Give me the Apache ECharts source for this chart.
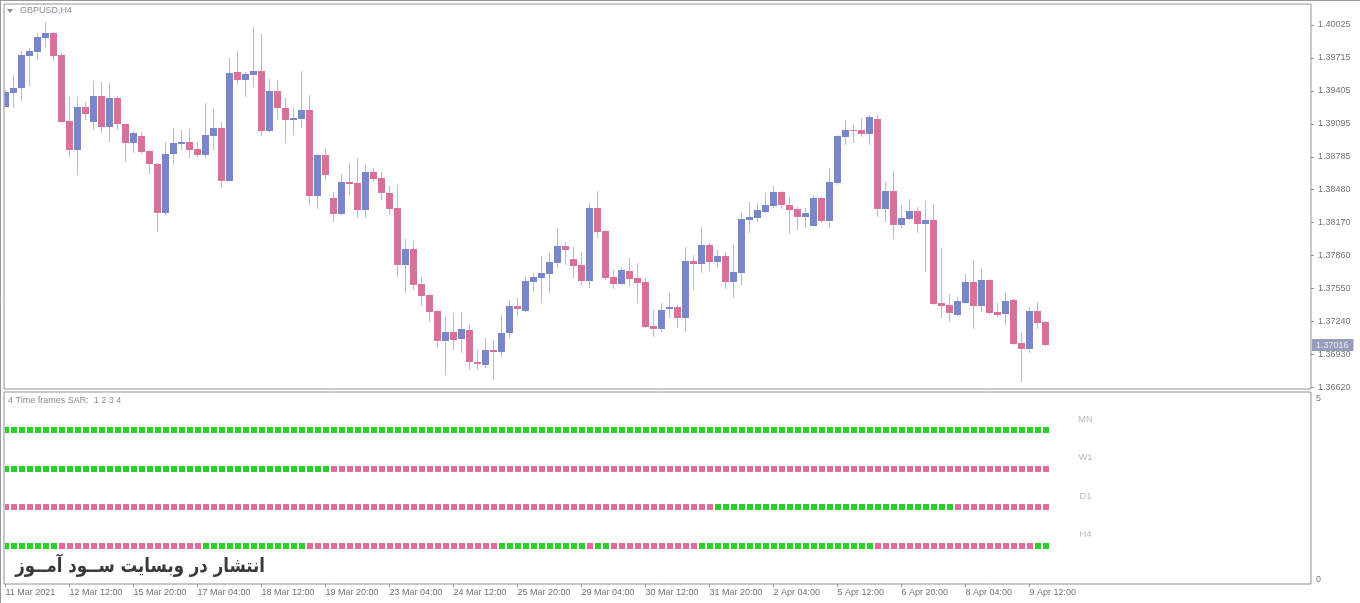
<!DOCTYPE html>
<html><head><meta charset="utf-8">
<script src="https://cdn.jsdelivr.net/npm/echarts@6/dist/echarts.min.js"></script>
<style>html,body{margin:0;padding:0;background:#fff}#c{width:1360px;height:603px}</style>
</head><body><div id="c"></div>
<script>
// ---- data (GBPUSD, H4 bars, 11 Mar 04:00 .. 9 Apr 20:00) ----
const opens = [1.39257,1.39389,1.39430,1.39736,1.39774,1.39906,1.39947,1.39743,1.39123,1.38850,
 1.39257,1.39116,1.39358,1.39069,1.39342,1.39092,1.38919,1.38984,1.38841,1.38718,
 1.38255,1.38810,1.38906,1.38925,1.38859,1.38803,1.38984,1.39054,1.38561,1.39580,
 1.39508,1.39555,1.39593,1.39029,1.39405,1.39248,1.39132,1.39144,1.39226,1.38418,
 1.38803,1.38402,1.38248,1.38549,1.38543,1.38286,1.38640,1.38587,1.38443,1.38302,
 1.37769,1.37917,1.37588,1.37487,1.37337,1.37057,1.37136,1.37071,1.37158,1.36857,
 1.36829,1.36970,1.36954,1.37127,1.37384,1.37339,1.37612,1.37650,1.37682,1.37785,
 1.37948,1.37825,1.37769,1.37621,1.38302,1.38089,1.37653,1.37588,1.37715,1.37644,
 1.37609,1.37196,1.37165,1.37353,1.37377,1.37268,1.37809,1.37776,1.37957,1.37800,
 1.37854,1.37612,1.37697,1.38192,1.38214,1.38270,1.38326,1.38458,1.38333,1.38295,
 1.38223,1.38138,1.38396,1.38185,1.38543,1.38975,1.39038,1.39038,1.38998,1.39141,
 1.38295,1.38465,1.38145,1.38204,1.38277,1.38154,1.38192,1.37415,1.37393,1.37299,
 1.37415,1.37612,1.37386,1.37628,1.37330,1.37308,1.37440,1.37039,1.36979,1.37337,
 1.37233];
const highs = [1.39414,1.39555,1.39781,1.39812,1.39947,1.40056,1.39955,1.39762,1.39348,1.39351,
 1.39301,1.39499,1.39489,1.39477,1.39358,1.39094,1.39029,1.39022,1.38850,1.38728,
 1.38928,1.39054,1.39038,1.39045,1.38925,1.39295,1.39233,1.39116,1.39712,1.39781,
 1.39583,1.40009,1.39938,1.39515,1.39508,1.39336,1.39251,1.39593,1.39367,1.38812,
 1.38857,1.38458,1.38622,1.38728,1.38772,1.38709,1.38678,1.38640,1.38512,1.38521,
 1.38011,1.37997,1.37659,1.37496,1.37346,1.37277,1.37315,1.37324,1.37205,1.36970,
 1.37080,1.37064,1.37299,1.37440,1.37456,1.37653,1.37691,1.37854,1.37879,1.38114,
 1.37988,1.37941,1.37894,1.38355,1.38467,1.38098,1.37722,1.37747,1.37832,1.37785,
 1.37647,1.37346,1.37409,1.37503,1.37393,1.37941,1.37863,1.38123,1.37979,1.37910,
 1.37894,1.37957,1.38255,1.38364,1.38355,1.38443,1.38512,1.38467,1.38411,1.38317,
 1.38302,1.38427,1.38405,1.38678,1.38991,1.39132,1.39085,1.39148,1.39179,1.39179,
 1.38552,1.38653,1.38333,1.38387,1.38317,1.38371,1.38342,1.37932,1.37496,1.37465,
 1.37682,1.37816,1.37729,1.37637,1.37415,1.37503,1.37449,1.37142,1.37377,1.37424,
 1.37240];
const lows = [1.39254,1.39242,1.39311,1.39454,1.39696,1.39821,1.39687,1.39113,1.38787,1.38615,
 1.39132,1.39038,1.39010,1.38928,1.39038,1.38740,1.38819,1.38812,1.38622,1.38082,
 1.38239,1.38709,1.38850,1.38772,1.38775,1.38772,1.38850,1.38490,1.38559,1.39461,
 1.39351,1.39445,1.38984,1.39019,1.39132,1.38913,1.38991,1.39054,1.38333,1.38293,
 1.38559,1.38176,1.38239,1.38427,1.38208,1.38208,1.38552,1.38380,1.38239,1.37659,
 1.37503,1.37534,1.37384,1.37230,1.37001,1.36735,1.36970,1.36939,1.36782,1.36782,
 1.36798,1.36688,1.36907,1.37083,1.37283,1.37330,1.37518,1.37409,1.37503,1.37738,
 1.37769,1.37644,1.37581,1.37550,1.38020,1.37628,1.37541,1.37581,1.37572,1.37409,
 1.37177,1.37095,1.37142,1.37268,1.37174,1.37135,1.37534,1.37697,1.37715,1.37753,
 1.37541,1.37456,1.37581,1.38067,1.38176,1.38255,1.38302,1.38293,1.38060,1.38098,
 1.38114,1.38136,1.38161,1.38114,1.38521,1.38897,1.38913,1.38975,1.38897,1.38217,
 1.38170,1.38011,1.38114,1.38192,1.38067,1.37706,1.37393,1.37268,1.37230,1.37290,
 1.37409,1.37165,1.37330,1.37308,1.37268,1.37205,1.37017,1.36672,1.36945,1.37165,
 1.37003];
const closes = [1.39398,1.39436,1.39743,1.39781,1.39909,1.39947,1.39736,1.39116,1.38850,1.39257,
 1.39186,1.39358,1.39069,1.39342,1.39092,1.38919,1.39013,1.38834,1.38716,1.38255,
 1.38812,1.38919,1.38925,1.38850,1.38803,1.38991,1.39054,1.38561,1.39571,1.39508,
 1.39562,1.39593,1.39029,1.39405,1.39248,1.39132,1.39148,1.39226,1.38418,1.38803,
 1.38615,1.38248,1.38549,1.38530,1.38286,1.38640,1.38577,1.38443,1.38295,1.37769,
 1.37917,1.37581,1.37480,1.37330,1.37057,1.37136,1.37064,1.37165,1.36860,1.36836,
 1.36970,1.36951,1.37133,1.37384,1.37358,1.37621,1.37659,1.37691,1.37800,1.37948,
 1.37907,1.37762,1.37621,1.38302,1.38082,1.37650,1.37588,1.37722,1.37640,1.37603,
 1.37189,1.37165,1.37346,1.37377,1.37268,1.37807,1.37776,1.37957,1.37800,1.37854,
 1.37612,1.37700,1.38199,1.38223,1.38286,1.38333,1.38458,1.38333,1.38286,1.38223,
 1.38258,1.38402,1.38185,1.38552,1.38982,1.39038,1.39029,1.38998,1.39157,1.38295,
 1.38465,1.38145,1.38208,1.38277,1.38154,1.38192,1.37402,1.37386,1.37321,1.37431,
 1.37612,1.37386,1.37628,1.37321,1.37299,1.37431,1.37026,1.36979,1.37337,1.37227,
 1.37016];

const priceTicks = [1.40025,1.39715,1.39405,1.39095,1.38785,1.38480,1.38170,1.37860,1.37550,1.37240,1.36930,1.36620];
const timeTickIdx = [0,8,16,24,32,40,48,56,64,72,80,88,96,104,112,120,128];
const timeTickLabels = ['11 Mar 2021','12 Mar 12:00','15 Mar 20:00','17 Mar 04:00','18 Mar 12:00','19 Mar 20:00',
 '23 Mar 04:00','24 Mar 12:00','25 Mar 20:00','29 Mar 04:00','30 Mar 12:00','31 Mar 20:00','2 Apr 04:00',
 '5 Apr 12:00','6 Apr 20:00','8 Apr 04:00','9 Apr 12:00'];

// SAR state per bar: G = green (up), P = pink (down)
const sarNames = ['MN','W1','D1','H4'];
const sarMN = 'GGGGGGGGGG GGGGGGGGGG GGGGGGGGGG GGGGGGGGGG GGGGGGGGGG GGGGGGGGGG GGGGGGGGGG GGGGGGGGGG GGGGGGGGGG GGGGGGGGGG GGGGGGGGGG GGGGGGGGGG GGGGGGGGGG G';
const sarW1 = 'GGGGGGGGGG GGGGGGGGGG GGGGGGGGGG GGGGGGGGGG G PPPPPPPPPP PPPPPPPPPP PPPPPPPPPP PPPPPPPPPP PPPPPPPPPP PPPPPPPPPP PPPPPPPPPP PPPPPPPPPP PPPPPPPPPP';
const sarD1 = 'PPPPPPPPPP PPPPPPPPPP PPPPPPPPPP PPPPPPPPPP PPPPPPPPPP PPPPPPPPPP PPPPPPPPPP PPPPPPPPPP PPPPPPPPP GGGGGGGGGG GGGGGGGGGG GGGGGGGGGG PPPPPPPPPP PP';
const sarH4 = 'GGGGGGG PPPPPPPPPP PPPPPPPP GGGGGGGGGG GGG PPPPPPPPPP PPPPPPPPPP PPPP GGGGGGGGGG G P GG PPPPPPPPPP P GGGGGGGGGG GGGGGGGGGG GG PPPPPPPPPP PPPPPPPPPP GG';

// ---- styling ----
const BLUE = '#7a86cb', PINK = '#dc6e9c', WICK = '#b7bcc7';
const SAR_G = '#2fcc2f', SAR_P = '#dc6e9c';
const AXIS_TXT = '#737373', FRAME = '#8f939a';
const FONT = 'Liberation Sans';
const X_MIN = -0.1875, X_MAX = 163.1875;

const candleData = opens.map((o, i) => [i, o, closes[i], lows[i], highs[i]]);
const lastClose = closes[closes.length - 1];
const sarRows = [sarMN, sarW1, sarD1, sarH4].map(s => s.replace(/ /g, ''));
const sarData = [];
sarRows.forEach((row, r) => {
  for (let i = 0; i < row.length; i++) sarData.push([i, 4 - r, row[i] === 'G' ? 1 : 0]);
});
const sarLabelData = sarNames.map((n, r) => ({ name: n, value: [135, 4 - r] }));

const chart = echarts.init(document.getElementById('c'), null, { renderer: 'canvas' });
chart.setOption({
  animation: false,
  backgroundColor: '#fff',
  textStyle: { fontFamily: FONT },
  grid: [
    { left: 4, top: 4, width: 1307, height: 385, show: true, borderColor: FRAME, borderWidth: 1, containLabel: false },
    { left: 4, top: 392, width: 1307, height: 192, show: true, borderColor: FRAME, borderWidth: 1, containLabel: false }
  ],
  xAxis: [
    { type: 'value', gridIndex: 0, min: X_MIN, max: X_MAX, axisLine: { show: false, onZero: false }, axisTick: { show: false },
      axisLabel: { show: false }, splitLine: { show: false } },
    { type: 'value', gridIndex: 1, min: X_MIN, max: X_MAX, axisLine: { show: false, onZero: false },
      axisTick: { show: true, customValues: timeTickIdx, length: 3, lineStyle: { color: FRAME } },
      axisLabel: { customValues: timeTickIdx, formatter: v => timeTickLabels[timeTickIdx.indexOf(Math.round(v))],
        align: 'left', fontSize: 9, color: AXIS_TXT, margin: 4, fontFamily: FONT },
      splitLine: { show: false } }
  ],
  yAxis: [
    { type: 'value', gridIndex: 0, position: 'right', min: 1.366034, max: 1.402224,
      axisLine: { show: false, onZero: false },
      axisTick: { show: true, customValues: priceTicks, length: 3, lineStyle: { color: FRAME } },
      axisLabel: { customValues: priceTicks, formatter: v => v.toFixed(5), fontSize: 9, color: AXIS_TXT, margin: 7, fontFamily: FONT },
      splitLine: { show: false } },
    { type: 'value', gridIndex: 1, position: 'right', min: 0, max: 5,
      axisLine: { show: false, onZero: false }, axisTick: { show: false },
      axisLabel: { customValues: [0, 5], fontSize: 9, color: AXIS_TXT, margin: 5, fontFamily: FONT,
        verticalAlignMinLabel: 'bottom', verticalAlignMaxLabel: 'top', padding: [2, 0, 0, 0] },
      splitLine: { show: false } }
  ],
  series: [
    {
      type: 'custom', name: 'GBPUSD', xAxisIndex: 0, yAxisIndex: 0, data: candleData,
      encode: { x: 0, y: [1, 2, 3, 4] }, clip: false,
      renderItem: (params, api) => {
        const i = api.value(0), o = api.value(1), c = api.value(2), l = api.value(3), h = api.value(4);
        const pH = api.coord([i, h]), pL = api.coord([i, l]), pO = api.coord([i, o]), pC = api.coord([i, c]);
        const x = Math.floor(pH[0]) + 0.5;
        const top = Math.round(Math.min(pO[1], pC[1])), bot = Math.round(Math.max(pO[1], pC[1]));
        const up = c >= o;
        const left = Math.max(x - 3.5, 4.5);
        return { type: 'group', children: [
          { type: 'line', shape: { x1: x, y1: Math.round(pH[1]), x2: x, y2: Math.round(pL[1]) }, style: { stroke: WICK, lineWidth: 1 } },
          { type: 'rect', shape: { x: left, y: top, width: x + 3.5 - left, height: Math.max(1, bot - top) }, style: { fill: up ? BLUE : PINK } }
        ] };
      }
    },
    {
      // current bid label on the price scale
      type: 'scatter', name: 'Bid', xAxisIndex: 0, yAxisIndex: 0, symbolSize: 0, silent: true, clip: false, z: 10,
      data: [[X_MAX, lastClose]],
      label: { show: true, position: 'right', distance: 1, formatter: p => p.value[1].toFixed(5),
        backgroundColor: '#7b84a8', color: '#fff', fontSize: 9, fontFamily: FONT, padding: [2, 5, 1, 4] }
    },
    {
      type: 'custom', name: 'SAR', xAxisIndex: 1, yAxisIndex: 1, data: sarData,
      encode: { x: 0, y: 1 },
      renderItem: (params, api) => {
        const p = api.coord([api.value(0), api.value(1)]);
        const x0 = Math.max(Math.round(p[0] - 3), 5);
        return { type: 'rect', shape: { x: x0, y: Math.round(p[1] - 3), width: Math.round(p[0] + 3) - x0, height: 6 },
          style: { fill: api.value(2) ? SAR_G : SAR_P } };
      }
    },
    {
      type: 'scatter', name: 'SAR labels', xAxisIndex: 1, yAxisIndex: 1, symbolSize: 0, silent: true,
      data: sarLabelData,
      label: { show: true, formatter: p => p.name, position: 'inside', offset: [0, -11], fontSize: 9.5, color: '#a8a8a8', fontFamily: FONT }
    }
  ],
  graphic: [
    { type: 'line', shape: { x1: 0.5, y1: 0, x2: 0.5, y2: 603 }, style: { stroke: '#9a9a9a', lineWidth: 1 } },
    { type: 'line', shape: { x1: 0, y1: 0.5, x2: 1360, y2: 0.5 }, style: { stroke: '#9a9a9a', lineWidth: 1 } },
    { type: 'polygon', shape: { points: [[7, 9], [13, 9], [10, 13]] }, style: { fill: '#8a8a8a' } },
    { type: 'text', style: { text: 'GBPUSD,H4', x: 20, y: 11, textVerticalAlign: 'middle', font: '9px "Liberation Sans"', fill: '#8a8e96' } },
    { type: 'text', style: { text: '4 Time frames SAR:  1 2 3 4', x: 8, y: 401, textVerticalAlign: 'middle', font: '9px "Liberation Sans"', fill: '#8a8a8a' } },
    { type: 'text', x: 265, y: 567, scaleY: 1.18,
      style: { text: 'انتشار در وبسایت ســود آمــوز', x: 0, y: 0, textAlign: 'right', textVerticalAlign: 'middle',
      font: 'bold 16.6px "DejaVu Sans"', fill: '#3a3a3a' } }
  ]
});
</script>
</body></html>
